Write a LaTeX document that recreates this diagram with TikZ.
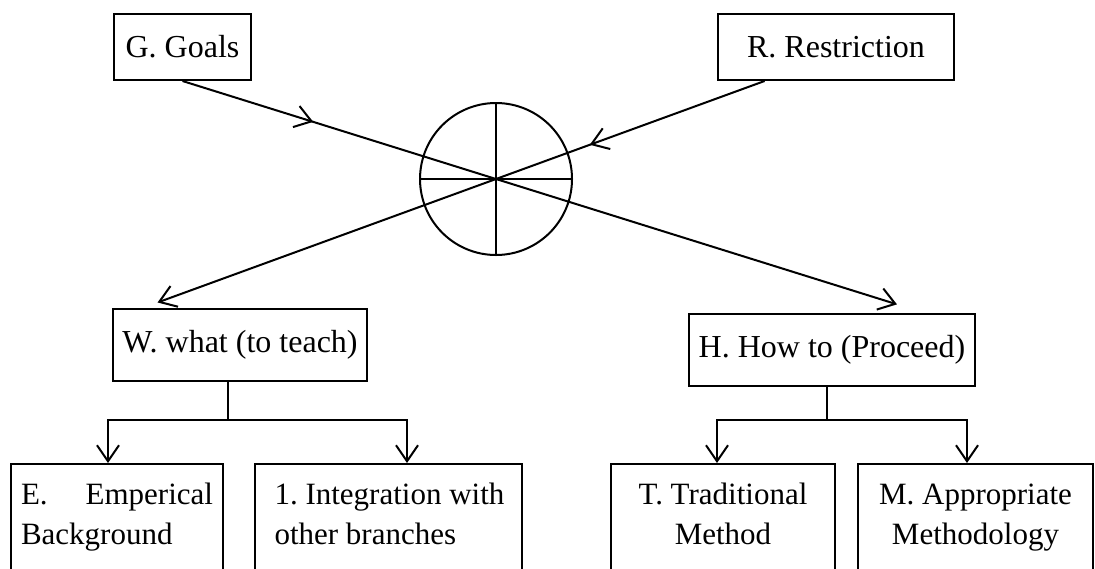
\documentclass[tikz,border=0pt]{standalone}
\usepackage{fontspec}
\setmainfont{Liberation Serif}
\usetikzlibrary{arrows.meta,calc,decorations.markings}
\tikzset{
  box/.style={draw,line width=1pt,inner sep=0pt,align=flush center,
    font={\fontsize{16}{20}\selectfont\frenchspacing}},
  leaf/.style={box,anchor=north,inner ysep=6pt,inner xsep=0pt,
    font={\fontsize{15.5}{20}\selectfont\frenchspacing}},
  wire/.style={line width=1pt},
  arr/.style={wire,-{Straight Barb[length=8pt,width=11pt]}},
  midarr/.style={postaction={decorate},decoration={markings,
    mark=at position #1 with {\arrow{Straight Barb[length=8pt,width=11pt]}}}},
}

\begin{document}
\begin{tikzpicture}[x=0.5pt,y=-0.5pt]
  \useasboundingbox (0,0) rectangle (1095,568);
  \node[box,minimum width=68.5pt,minimum height=33pt](goals) at (182.5,47){G. Goals};
  \node[box,minimum width=118pt,minimum height=33pt](restr) at (836,47){R. Restriction};
  \node[draw,circle,line width=1pt,minimum size=76pt,inner sep=0pt](hub) at (496,179){};
  \draw[wire](hub.north)--(hub.south) (hub.west)--(hub.east);
  \node[box,minimum width=127pt,minimum height=36pt](what) at (240,345){W. what (to teach)};
  \node[box,minimum width=143pt,minimum height=36pt](how) at (832,350){H. How to (Proceed)};
  % lower row, cut by the page edge
  \node[leaf,align=flush left,text width=96pt,minimum width=106pt](emp) at (117,463)
    {\strut E.\hfill Emperical\\Background\\\mbox{}};
  \node[leaf,align=flush left,text width=114pt,minimum width=133.5pt](integ) at (388.5,463)
    {\strut\mbox{1. Integration with}\\other branches\\\mbox{}};
  \node[leaf,text width=112pt,minimum width=112pt](trad) at (723,463)
    {\strut T. Traditional\\Method\\\mbox{}};
  \node[leaf,text width=117.5pt,minimum width=117.5pt](meth) at (975.5,463)
    {\strut M. Appropriate\\Methodology\\\mbox{}};
  % crossing lines through the hub
  \coordinate(rfoot) at ($(restr.south west)!0.2!(restr.south east)$);
  \coordinate(htip) at ($(goals.south)!2.279!(hub.center)$);
  \coordinate(wtip) at ($(rfoot)!2.26!(hub.center)$);
  \draw[arr,midarr=0.183](goals.south)--(htip);
  \draw[arr,midarr=0.288](rfoot)--(wtip);
  % branches
  \coordinate(wj) at (228,420);
  \coordinate(hj) at (827,420);
  \draw[wire](what.south -| wj)--(wj);
  \draw[arr](wj)-|([xshift=-4.5pt]emp.north);
  \draw[arr](wj)-|([xshift=9.25pt]integ.north);
  \draw[wire](how.south -| hj)--(hj);
  \draw[arr](hj)-|([xshift=-3pt]trad.north);
  \draw[arr](hj)-|([xshift=-4.25pt]meth.north);
\end{tikzpicture}
\end{document}
